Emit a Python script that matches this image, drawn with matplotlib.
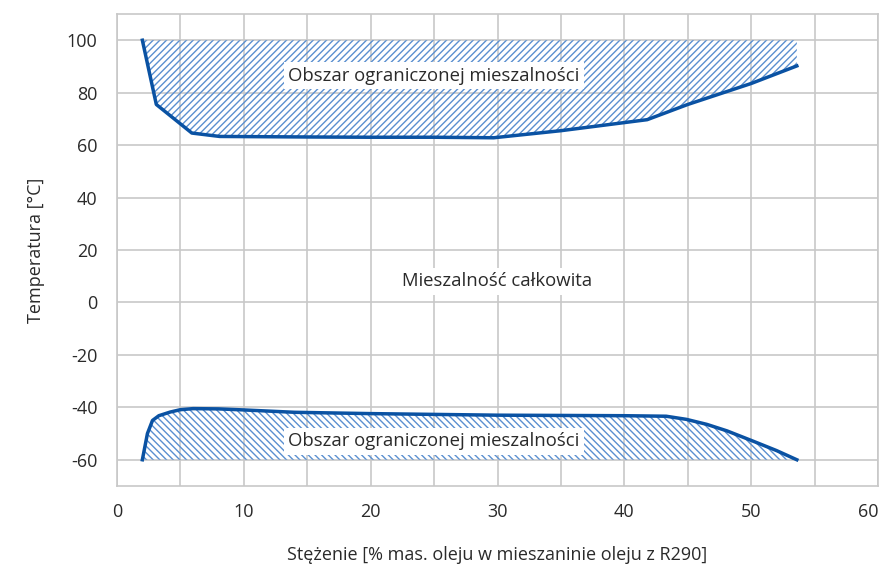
import numpy as np
import matplotlib
matplotlib.use("Agg")
import matplotlib.pyplot as plt

plt.rcParams['font.family'] = ['Open Sans', 'DejaVu Sans']
plt.rcParams['hatch.linewidth'] = 1.0
plt.rcParams['axes.unicode_minus'] = False

# upper limit of miscibility (top curve)
x_up = [2.0, 3.1, 5.9, 8.1, 15, 20, 25, 29.7, 35, 41.8, 45, 50, 53.6]
t_up = [100, 75.5, 64.6, 63.3, 63.1, 63.0, 63.0, 62.8, 65.5, 69.7, 75.5, 83.5, 90.2]
# lower limit of miscibility (bottom curve)
x_lo = [2.0, 2.4, 2.8, 3.3, 4.2, 5.0, 6.0, 8.0, 10, 14, 20, 30, 40, 43.3, 44.9, 46.5, 48.1, 50.2, 52.0, 53.6]
t_lo = [-60, -50, -45, -43.2, -41.8, -40.9, -40.5, -40.6, -41.0, -41.9, -42.4, -43.0, -43.2, -43.4, -44.6, -46.5, -49.0, -53.0, -56.5, -60]

t_top = 100
t_bot = -60

line_c = '#0a52a3'
hatch_c = '#5a8fd0'
txt_c = '#2a2a2a'

fig = plt.figure(figsize=(8.81, 5.67), dpi=100)
ax = fig.add_axes([0.1328, 0.1429, 0.8638, 0.8324])

ax.fill_between(x_up, t_up, t_top, facecolor='none', edgecolor=hatch_c,
                hatch='/////', linewidth=0, zorder=2)
ax.fill_between(x_lo, t_bot, t_lo, facecolor='none', edgecolor=hatch_c,
                hatch='\\\\\\\\\\', linewidth=0, zorder=2)
ax.plot(x_up, t_up, color=line_c, lw=2.5, zorder=3)
ax.plot(x_lo, t_lo, color=line_c, lw=2.5, zorder=3)

box = dict(facecolor='white', edgecolor='none', pad=3)
ax.text(25.0, 86.5, 'Obszar ograniczonej mieszalności', ha='center', va='center',
        fontsize=13.3, color=txt_c, bbox=box, zorder=4)
ax.text(25.0, -53, 'Obszar ograniczonej mieszalności', ha='center', va='center',
        fontsize=13.3, color=txt_c, bbox=box, zorder=4)
ax.text(30, 8, 'Mieszalność całkowita', ha='center', va='center',
        fontsize=13.3, color=txt_c, bbox=box, zorder=4)

ax.set_xlim(0, 60)
ax.set_ylim(-70, 110)
ax.set_xticks(np.arange(0, 61, 10))
ax.set_xticks(np.arange(0, 61, 5), minor=True)
ax.set_yticks(np.arange(-60, 101, 20))
ax.grid(True, which='both', color='#c8c8c8', lw=1.2, zorder=0)
ax.set_axisbelow(True)
ax.tick_params(which='both', length=0, labelsize=13, labelcolor=txt_c)
ax.tick_params(axis='y', pad=14)
ax.tick_params(axis='x', pad=12)
for s in ax.spines.values():
    s.set_color('#c8c8c8')
    s.set_linewidth(1.2)
labels = ax.get_xticklabels()
labels[-1].set_horizontalalignment('right')

ax.set_xlabel('Stężenie [% mas. oleju w mieszaninie oleju z R290]', fontsize=13,
              color=txt_c, labelpad=18)
ax.set_ylabel('Temperatura [°C]', fontsize=13, color=txt_c, labelpad=16)

fig.savefig('out.png', dpi=100)
